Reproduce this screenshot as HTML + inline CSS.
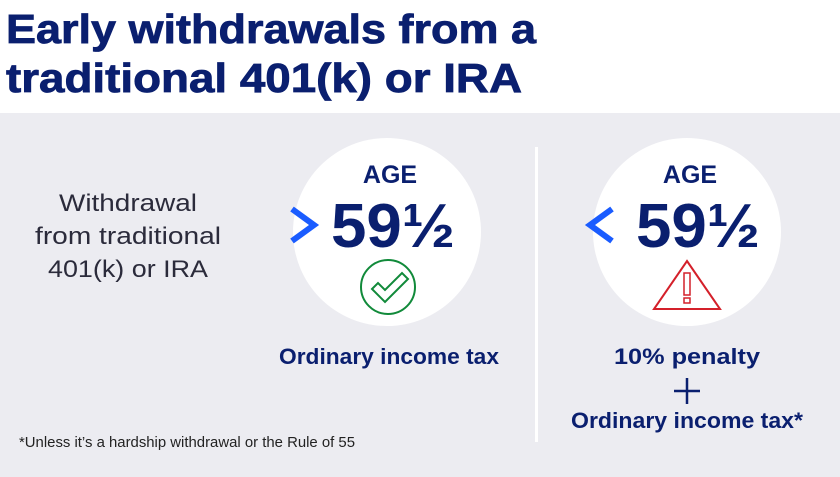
<!DOCTYPE html>
<html><head><meta charset="utf-8"><style>
html,body{margin:0;padding:0;}
body{width:840px;height:472px;overflow:hidden;background:#ececf1;}
</style></head><body>
<svg width="840" height="472" viewBox="0 0 840 472" xmlns="http://www.w3.org/2000/svg" font-family="Liberation Sans, sans-serif">
<rect x="0" y="0" width="840" height="113" fill="#ffffff"/>
<rect x="0" y="113" width="840" height="359" fill="#ececf1"/>
<g fill="#0a1f6f" font-weight="bold" font-size="41" stroke="#0a1f6f" stroke-width="0.8">
<text x="6" y="43" textLength="530" lengthAdjust="spacingAndGlyphs">Early withdrawals from a</text>
<text x="6" y="92" textLength="516" lengthAdjust="spacingAndGlyphs">traditional 401(k) or IRA</text>
</g>
<rect x="535" y="147" width="3" height="295" fill="#ffffff"/>
<circle cx="387" cy="232" r="94" fill="#ffffff"/>
<circle cx="687" cy="232" r="94" fill="#ffffff"/>
<g fill="#2b2b3b" font-size="24.5" text-anchor="middle">
<text x="128" y="211" textLength="138" lengthAdjust="spacingAndGlyphs">Withdrawal</text>
<text x="128" y="244" textLength="186" lengthAdjust="spacingAndGlyphs">from traditional</text>
<text x="128" y="277" textLength="160" lengthAdjust="spacingAndGlyphs">401(k) or IRA</text>
</g>
<g fill="#0a1f6f" font-weight="bold" text-anchor="middle">
<text x="390" y="183" font-size="25">AGE</text>
<text x="690" y="183" font-size="25">AGE</text>
<text x="393" y="247" font-size="62" textLength="124" lengthAdjust="spacingAndGlyphs">59½</text>
<text x="698" y="247" font-size="62" textLength="124" lengthAdjust="spacingAndGlyphs">59½</text>
</g>
<polyline points="292,209 314,225 292,241" fill="none" stroke="#1a5cff" stroke-width="6"/>
<polyline points="612,209 590,225 612,241" fill="none" stroke="#1a5cff" stroke-width="6"/>
<circle cx="388" cy="287" r="27" fill="none" stroke="#118a3a" stroke-width="2"/>
<polygon points="372,289 378,283 385,290 402,273 408,279 385,302" fill="none" stroke="#118a3a" stroke-width="2"/>
<polygon points="687,261 720,309 654,309" fill="none" stroke="#d4202a" stroke-width="2"/>
<rect x="684" y="273" width="6" height="22" fill="none" stroke="#d4202a" stroke-width="1.5"/>
<rect x="684" y="298" width="6" height="5" fill="none" stroke="#d4202a" stroke-width="1.5"/>
<g fill="#0a1f6f" font-weight="bold" font-size="22" text-anchor="middle">
<text x="389" y="364" textLength="220" lengthAdjust="spacingAndGlyphs">Ordinary income tax</text>
<text x="687" y="364" textLength="146" lengthAdjust="spacingAndGlyphs">10% penalty</text>
<text x="687" y="428" textLength="232" lengthAdjust="spacingAndGlyphs">Ordinary income tax*</text>
</g>
<g stroke="#0a1f6f" stroke-width="2.5">
<line x1="674" y1="391" x2="700" y2="391"/>
<line x1="687" y1="378" x2="687" y2="404"/>
</g>
<text x="19" y="447" font-size="15" fill="#222" textLength="336" lengthAdjust="spacingAndGlyphs">*Unless it’s a hardship withdrawal or the Rule of 55</text>
</svg>
</body></html>
